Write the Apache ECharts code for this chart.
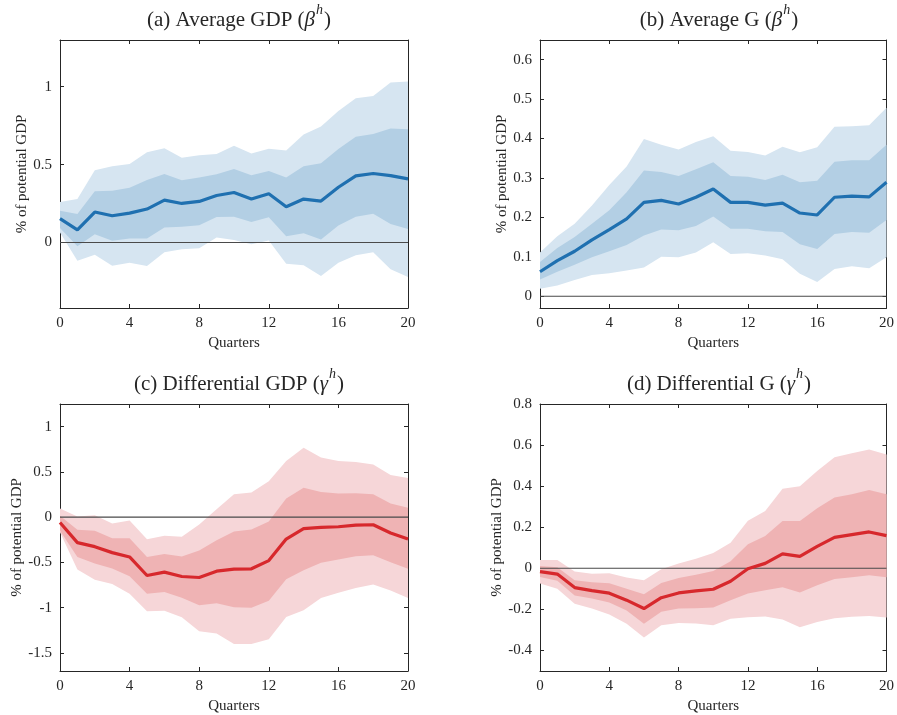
<!DOCTYPE html>
<html>
<head>
<meta charset="utf-8">
<script src="https://cdn.jsdelivr.net/npm/echarts@6/dist/echarts.min.js"></script>
<style>
  html, body { margin: 0; padding: 0; background: #ffffff; }
  #chart { width: 897px; height: 715px; }
</style>
</head>
<body>
<div id="chart"></div>
<script>
// Horizon in quarters
const quarters = ['0','1','2','3','4','5','6','7','8','9','10','11','12','13','14','15','16','17','18','19','20'];

// (a) Average GDP response
const gdpAvg      = [0.153,0.081,0.196,0.172,0.189,0.215,0.272,0.251,0.264,0.302,0.321,0.279,0.313,0.230,0.279,0.266,0.355,0.428,0.443,0.430,0.409];
const gdpAvgLo68  = [0.094,-0.023,0.053,0.011,0.026,0.026,0.096,0.102,0.111,0.164,0.166,0.132,0.162,0.040,0.060,0.019,0.109,0.166,0.185,0.119,0.087];
const gdpAvgUp68  = [0.204,0.183,0.330,0.332,0.351,0.402,0.440,0.400,0.417,0.438,0.472,0.432,0.460,0.417,0.489,0.509,0.600,0.679,0.696,0.732,0.728];
const gdpAvgLo90  = [0.065,-0.117,-0.079,-0.149,-0.130,-0.151,-0.062,-0.043,-0.036,0.032,0.017,-0.011,0.013,-0.136,-0.145,-0.215,-0.130,-0.081,-0.062,-0.172,-0.221];
const gdpAvgUp90  = [0.260,0.279,0.464,0.489,0.504,0.579,0.606,0.545,0.560,0.568,0.621,0.572,0.602,0.591,0.694,0.745,0.845,0.926,0.940,1.028,1.034];

// (b) Average G response
const gAvg      = [0.062,0.090,0.114,0.143,0.169,0.196,0.238,0.243,0.234,0.251,0.272,0.238,0.238,0.231,0.236,0.211,0.206,0.251,0.254,0.252,0.289];
const gAvgLo68  = [0.042,0.062,0.080,0.099,0.114,0.130,0.154,0.169,0.167,0.178,0.202,0.171,0.171,0.165,0.163,0.132,0.120,0.158,0.163,0.161,0.193];
const gAvgUp68  = [0.087,0.122,0.150,0.184,0.218,0.264,0.319,0.315,0.305,0.322,0.340,0.305,0.303,0.295,0.308,0.289,0.293,0.341,0.345,0.345,0.384];
const gAvgLo90  = [0.019,0.027,0.041,0.054,0.058,0.065,0.073,0.100,0.099,0.111,0.137,0.107,0.109,0.103,0.094,0.057,0.036,0.069,0.076,0.071,0.099];
const gAvgUp90  = [0.111,0.152,0.184,0.230,0.282,0.329,0.399,0.384,0.372,0.391,0.406,0.369,0.366,0.357,0.379,0.365,0.378,0.430,0.431,0.434,0.478];

// (c) Differential GDP response
const gdpDiff      = [-0.059,-0.282,-0.326,-0.392,-0.440,-0.645,-0.608,-0.656,-0.667,-0.597,-0.575,-0.571,-0.480,-0.242,-0.128,-0.114,-0.106,-0.088,-0.084,-0.176,-0.242];
const gdpDiffLo68  = [-0.150,-0.440,-0.513,-0.568,-0.652,-0.846,-0.828,-0.890,-0.974,-0.952,-0.996,-1.000,-0.923,-0.685,-0.586,-0.505,-0.469,-0.432,-0.421,-0.498,-0.571];
const gdpDiffUp68  = [0.015,-0.139,-0.150,-0.234,-0.234,-0.440,-0.407,-0.436,-0.370,-0.256,-0.158,-0.136,-0.048,0.205,0.326,0.278,0.260,0.264,0.253,0.150,0.103];
const gdpDiffLo90  = [-0.168,-0.579,-0.692,-0.740,-0.846,-1.040,-1.033,-1.106,-1.260,-1.286,-1.403,-1.403,-1.348,-1.103,-1.029,-0.894,-0.835,-0.784,-0.744,-0.810,-0.894];
const gdpDiffUp90  = [0.095,0.007,0.022,-0.070,-0.037,-0.245,-0.205,-0.216,-0.081,0.088,0.253,0.271,0.396,0.619,0.766,0.659,0.619,0.608,0.582,0.465,0.432];

// (d) Differential G response
const gDiff      = [-0.016,-0.028,-0.094,-0.109,-0.121,-0.155,-0.196,-0.143,-0.120,-0.110,-0.102,-0.063,-0.002,0.024,0.070,0.058,0.107,0.151,0.164,0.177,0.159];
const gDiffLo68  = [-0.042,-0.060,-0.133,-0.147,-0.167,-0.206,-0.270,-0.212,-0.196,-0.194,-0.191,-0.155,-0.123,-0.107,-0.092,-0.118,-0.083,-0.052,-0.044,-0.034,-0.044];
const gDiffUp68  = [0.011,0.005,-0.058,-0.068,-0.073,-0.100,-0.126,-0.071,-0.047,-0.031,-0.013,0.034,0.117,0.157,0.230,0.230,0.293,0.345,0.360,0.381,0.360];
const gDiffLo90  = [-0.074,-0.099,-0.172,-0.196,-0.225,-0.270,-0.337,-0.277,-0.266,-0.269,-0.277,-0.245,-0.238,-0.235,-0.249,-0.287,-0.261,-0.243,-0.236,-0.232,-0.240];
const gDiffUp90  = [0.040,0.040,-0.015,-0.026,-0.024,-0.045,-0.058,-0.005,0.024,0.047,0.074,0.125,0.232,0.279,0.387,0.400,0.474,0.541,0.560,0.578,0.554];

// Y-axis tick values per panel
const yTicksA = [0, 0.5, 1];
const yTicksB = [0, 0.1, 0.2, 0.3, 0.4, 0.5, 0.6];
const yTicksC = [-1.5, -1, -0.5, 0, 0.5, 1];
const yTicksD = [-0.4, -0.2, 0, 0.2, 0.4, 0.6, 0.8];

const titles = [
  { lead: '(a) Average GDP (', sym: 'β' },
  { lead: '(b) Average G (', sym: 'β' },
  { lead: '(c) Differential GDP (', sym: 'γ' },
  { lead: '(d) Differential G (', sym: 'γ' }
];

const FONT = '"Liberation Serif", "DejaVu Serif", serif';
const INK = '#262626';

const BLUE = { line: '#1f70b0', inner: '#b3cfe4', outer: '#d6e5f1' };
const RED  = { line: '#d7282c', inner: '#efb3b4', outer: '#f6d6d8' };

const panels = [
  { mid: gdpAvg,  lo68: gdpAvgLo68,  up68: gdpAvgUp68,  lo90: gdpAvgLo90,  up90: gdpAvgUp90,  ticks: yTicksA, min: -0.42, max: 1.3,  col: BLUE, grid: { left: 60,  top: 40,  width: 348, height: 268 } },
  { mid: gAvg,    lo68: gAvgLo68,    up68: gAvgUp68,    lo90: gAvgLo90,    up90: gAvgUp90,    ticks: yTicksB, min: -0.03, max: 0.65, col: BLUE, grid: { left: 540, top: 40,  width: 348, height: 268 } },
  { mid: gdpDiff, lo68: gdpDiffLo68, up68: gdpDiffUp68, lo90: gdpDiffLo90, up90: gdpDiffUp90, ticks: yTicksC, min: -1.7,  max: 1.25, col: RED,  grid: { left: 60,  top: 404, width: 348, height: 268 } },
  { mid: gDiff,   lo68: gDiffLo68,   up68: gDiffUp68,   lo90: gDiffLo90,   up90: gDiffUp90,   ticks: yTicksD, min: -0.5,  max: 0.8,  col: RED,  grid: { left: 540, top: 404, width: 348, height: 268 } }
];

const spans = (lo, up) => lo.map((v, i) => up[i] - v);
const fmt = (v) => String(v);

const grid = [], xAxis = [], yAxis = [], series = [], title = [];

panels.forEach((p, k) => {
  grid.push(Object.assign({ containLabel: false }, p.grid));

  const g = p.grid;
  title.push({
    text: '{t|' + titles[k].lead + '}{i|' + titles[k].sym + '}{s|h}{t|)}',
    left: g.left + g.width / 2,
    top: g.top - 42,
    textAlign: 'center',
    textStyle: {
      fontWeight: 'normal',
      rich: {
        t: { fontFamily: FONT, fontSize: 21, fontWeight: 'normal', color: INK, lineHeight: 28, verticalAlign: 'bottom' },
        i: { fontFamily: FONT, fontSize: 21, fontWeight: 'normal', fontStyle: 'italic', color: INK, lineHeight: 28, verticalAlign: 'bottom' },
        s: { fontFamily: FONT, fontSize: 14, fontWeight: 'normal', fontStyle: 'italic', color: INK, lineHeight: 28, verticalAlign: 'top', padding: [0, 1, 0, 1] }
      }
    }
  });

  const axisLine = { show: true, onZero: false, lineStyle: { color: INK, width: 1 } };

  // bottom x axis with labels every fourth quarter
  xAxis.push({
    type: 'category', data: quarters, gridIndex: k, boundaryGap: false, position: 'bottom',
    axisLine,
    axisTick: { show: true, inside: true, length: 4, interval: 3, lineStyle: { color: INK, width: 1 } },
    splitLine: { show: false },
    axisLabel: { interval: 3, margin: 8, fontFamily: FONT, fontSize: 15, color: INK },
    name: 'Quarters', nameLocation: 'middle', nameGap: 28,
    nameTextStyle: { fontFamily: FONT, fontSize: 15, color: INK }
  });
  // top x axis: frame with inward ticks
  xAxis.push({
    type: 'category', data: quarters, gridIndex: k, boundaryGap: false, position: 'top',
    axisLine,
    axisTick: { show: true, inside: true, length: 4, interval: 3, lineStyle: { color: INK, width: 1 } },
    axisLabel: { show: false }, splitLine: { show: false }
  });
  const tickIn = { show: true, inside: true, length: 4, customValues: p.ticks, lineStyle: { color: INK, width: 1 } };
  // left y axis with labels
  yAxis.push({
    type: 'value', gridIndex: k, min: p.min, max: p.max, position: 'left',
    axisLine, axisTick: tickIn, splitLine: { show: false },
    axisLabel: { customValues: p.ticks, formatter: fmt, margin: 8, fontFamily: FONT, fontSize: 15, color: INK },
    name: '% of potential GDP', nameLocation: 'middle', nameGap: 28, nameRotate: 90,
    nameTextStyle: { fontFamily: FONT, fontSize: 15, color: INK }
  });
  // right y axis: frame with inward ticks
  yAxis.push({
    type: 'value', gridIndex: k, min: p.min, max: p.max, position: 'right',
    axisLine, axisTick: tickIn, axisLabel: { show: false }, splitLine: { show: false }
  });

  const xi = 2 * k, yi = 2 * k;
  const band = (name, lo, up, color, z) => {
    series.push({
      type: 'line', name: name + '-base', xAxisIndex: xi, yAxisIndex: yi,
      stack: name, stackStrategy: 'all', data: lo,
      symbol: 'none', lineStyle: { opacity: 0 }, silent: true, z
    });
    series.push({
      type: 'line', name: name + '-fill', xAxisIndex: xi, yAxisIndex: yi,
      stack: name, stackStrategy: 'all', data: spans(lo, up),
      symbol: 'none', lineStyle: { opacity: 0 }, areaStyle: { color, opacity: 1 }, silent: true, z
    });
  };
  band('p' + k + 'outer', p.lo90, p.up90, p.col.outer, 1);
  band('p' + k + 'inner', p.lo68, p.up68, p.col.inner, 2);

  // zero reference line
  series.push({
    type: 'line', xAxisIndex: xi, yAxisIndex: yi, data: quarters.map(() => 0),
    symbol: 'none', lineStyle: { color: '#4a4a4a', width: 1.1 }, silent: true, z: 3
  });
  // point estimate
  series.push({
    type: 'line', xAxisIndex: xi, yAxisIndex: yi, data: p.mid,
    symbol: 'none', lineStyle: { color: p.col.line, width: 3.2 }, z: 4
  });
});

const chart = echarts.init(document.getElementById('chart'), null, { renderer: 'canvas' });
chart.setOption({
  backgroundColor: '#ffffff',
  animation: false,
  title, grid, xAxis, yAxis, series
});
</script>
</body>
</html>
